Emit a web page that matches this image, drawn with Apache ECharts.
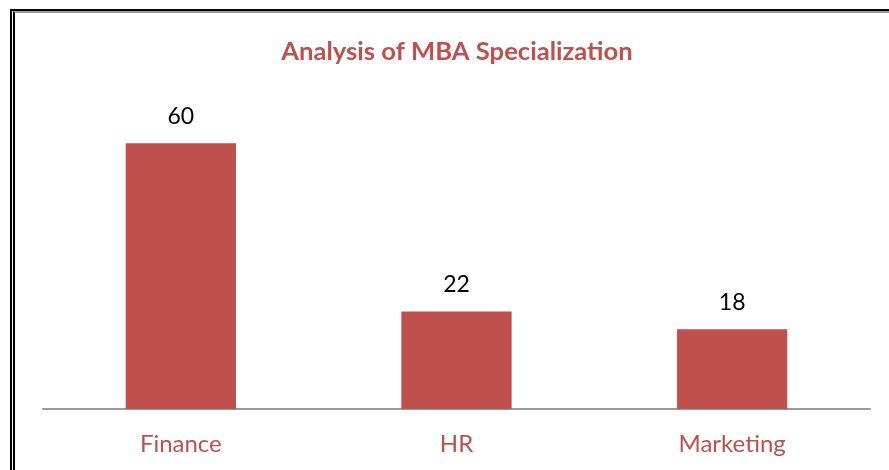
<!DOCTYPE html>
<html><head><meta charset="utf-8">
<script src="https://cdn.jsdelivr.net/npm/echarts@6/dist/echarts.min.js"></script>
<style>
html,body{margin:0;padding:0;background:#fff;}
#frame{position:absolute;left:10px;top:9px;width:900px;height:470px;border-left:2px solid #000;border-top:2px solid #000;}
#inner{position:absolute;left:13px;top:11px;width:900px;height:470px;border-left:2px solid #000;border-top:2px solid #999;}
#c{position:absolute;left:0;top:0;width:889px;height:470px;}
</style></head>
<body>
<div id="frame"></div><div id="inner"></div>
<div id="c"></div>
<script>
const categories = ['Finance', 'HR', 'Marketing'];
const values = [60, 22, 18];
const titleText = 'Analysis of MBA Specialization';
const red = '#c0504d';
const chart = echarts.init(document.getElementById('c'));
chart.setOption({
  animation: false,
  title: { text: titleText, left: 452, top: 34, textAlign: 'center',
    textStyle: { fontFamily: 'Lato', fontWeight: 'bold', fontSize: 25.6, color: red } },
  grid: { left: 43, right: 19, top: 99, bottom: 61 },
  xAxis: { type: 'category', data: categories,
    axisLine: { lineStyle: { color: '#999', width: 2 } }, axisTick: { show: false },
    axisLabel: { color: red, fontFamily: 'Lato', fontSize: 24, margin: 23 } },
  yAxis: { type: 'value', min: 0, max: 70, show: false },
  series: [{ type: 'bar', data: values, barCategoryGap: '60%',
    itemStyle: { color: red },
    label: { show: true, position: 'top', distance: 15, color: '#000', fontFamily: 'Lato', fontSize: 23 } }]
});
</script></body></html>
